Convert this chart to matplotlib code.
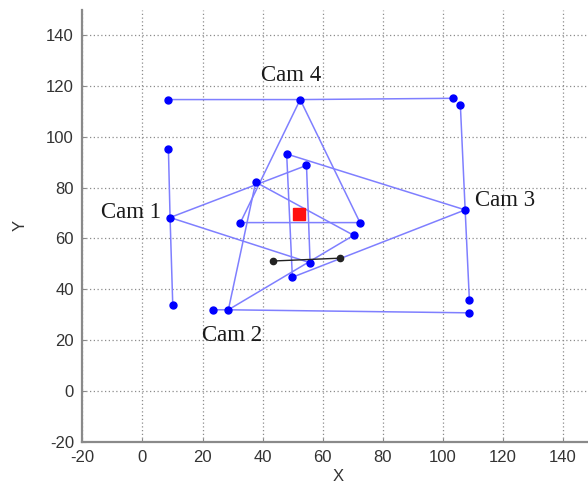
import matplotlib
matplotlib.use("Agg")
import matplotlib.pyplot as plt

# ---- data ----
cam_names = ["Cam 1", "Cam 2", "Cam 3", "Cam 4"]
cam_x = [9.2, 28.6, 107.4, 52.5]
cam_y = [68.2, 31.9, 71.2, 114.6]
# image-plane end points of each camera
plane_a_x = [8.65, 23.6, 105.8, 8.65]
plane_a_y = [95.1, 31.9, 112.5, 114.6]
plane_b_x = [10.1, 108.8, 108.8, 103.3]
plane_b_y = [33.7, 30.7, 35.8, 115.1]
# far corners of each field-of-view triangle
ray1_x = [54.6, 37.7, 48.0, 32.6]
ray1_y = [88.7, 82.1, 93.2, 66.2]
ray2_x = [55.8, 70.3, 49.9, 72.4]
ray2_y = [50.4, 61.2, 44.7, 66.2]
# target point and object segment
target_x = [52.1]
target_y = [69.5]
seg_x = [43.6, 65.6]
seg_y = [51.1, 52.2]
# label anchor positions (data coords)
label_x = [-3.8, 29.9, 120.7, 49.5]
label_y = [70.2, 21.6, 74.7, 124.2]

x_ticks = [-20, 0, 20, 40, 60, 80, 100, 120, 140]
y_ticks = [-20, 0, 20, 40, 60, 80, 100, 120, 140]

fig = plt.figure(figsize=(5.88, 4.87), dpi=100)
ax = fig.add_axes([0.140, 0.093, 0.8688, 0.8873])

line_c = "#7f7fff"
for i in range(len(cam_names)):
    ax.plot([plane_a_x[i], cam_x[i], plane_b_x[i]],
            [plane_a_y[i], cam_y[i], plane_b_y[i]],
            color=line_c, lw=1.1, zorder=2)
    ax.plot([cam_x[i], ray1_x[i], ray2_x[i], cam_x[i]],
            [cam_y[i], ray1_y[i], ray2_y[i], cam_y[i]],
            color=line_c, lw=1.1, zorder=2)

mk = dict(ls="none", marker="o", color="#0000ff", ms=5, zorder=3)
ax.plot(cam_x, cam_y, **mk)
ax.plot(plane_a_x, plane_a_y, **mk)
ax.plot(plane_b_x, plane_b_y, **mk)
ax.plot(ray1_x, ray1_y, **mk)
ax.plot(ray2_x, ray2_y, **mk)

ax.plot(seg_x, seg_y, color="#222222", lw=1.0, marker="o", ms=4.5,
        zorder=4)
ax.plot(target_x, target_y, ls="none", marker="s", color="#ff1010",
        ms=8, zorder=5)

for name, lx, ly in zip(cam_names, label_x, label_y):
    ax.text(lx, ly, name, ha="center", va="center",
            family="Liberation Serif", fontsize=16.5, color="#1a1a1a",
            zorder=6)

ax.set_xlim(-20, 150)
ax.set_ylim(-20, 150)
ax.set_xticks(x_ticks)
ax.set_yticks(y_ticks)
ax.set_xticklabels([str(t) for t in x_ticks])
ax.set_yticklabels([str(t) for t in y_ticks])
ax.grid(True, ls=(0, (1, 2)), color="#8c8c8c", lw=0.9)
ax.set_axisbelow(True)

for s in ["top", "right"]:
    ax.spines[s].set_visible(False)
for s in ["left", "bottom"]:
    ax.spines[s].set_color("#8a8a8a")
    ax.spines[s].set_linewidth(1.6)

ax.tick_params(direction="in", length=3, color="#8a8a8a",
               labelsize=12, labelcolor="#333333", pad=6)
for lab in ax.get_xticklabels() + ax.get_yticklabels():
    lab.set_family("Liberation Sans")

ax.set_xlabel("X", fontsize=12, color="#333333", family="Liberation Sans",
              labelpad=3)
ax.set_ylabel("Y", fontsize=12, color="#333333", family="Liberation Sans",
              labelpad=13)

fig.savefig("out.png", dpi=100)
